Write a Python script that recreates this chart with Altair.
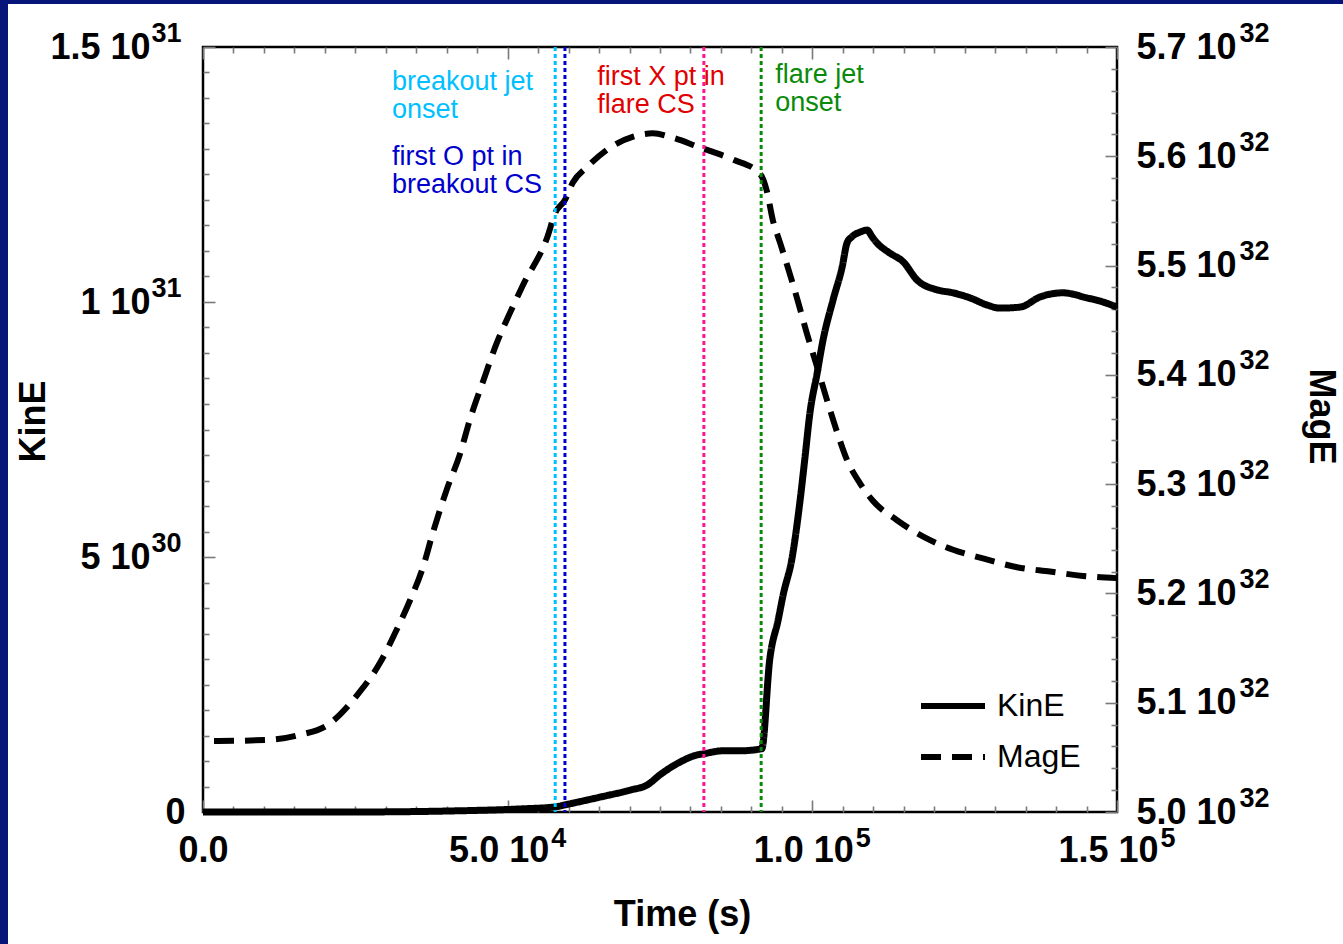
import altair as alt
import pandas as pd

# ---------------------------------------------------------------- data
# Kinetic energy (erg, in units of 1e30) versus time (s, in units of 1e3)
KIN_TIME_KS = [0, 24.1, 40.5, 52.0, 57.8, 59.4, 65.1, 70.1, 72.9, 75.0, 78.3,
               81.1, 82.1, 85.3, 88.1, 91.7, 93.0, 94.4, 95.2, 96.7, 98.0,
               98.8, 99.6, 100.8, 101.7, 103.4, 104.9, 105.7, 106.5, 107.8,
               109.0, 109.8, 110.6, 112.7, 114.9, 117.2, 120.4, 123.1, 125.9,
               128.7, 130.8, 134.1, 137.4, 141.1, 145.1, 147.7, 150.0]
KIN_E30 = [0, 0.0, 0.02, 0.06, 0.10, 0.14, 0.29, 0.43, 0.53, 0.73, 0.98,
           1.12, 1.14, 1.20, 1.20, 1.24, 2.98, 3.77, 4.25, 5.00, 6.12,
           6.96, 7.82, 8.61, 9.22, 10.04, 10.69, 11.16, 11.28, 11.37,
           11.41, 11.28, 11.16, 10.96, 10.79, 10.43, 10.24, 10.18, 10.08,
           9.94, 9.88, 9.90, 10.10, 10.18, 10.08, 10.00, 9.90]

# Magnetic energy (erg, in units of 1e32) versus time (s, in units of 1e3)
MAG_TIME_KS = [0, 2.5, 10.5, 15.4, 20.8, 25.3, 29.0, 31.8, 34.0, 36.1,
               37.7, 40.0, 42.2, 43.8, 45.9, 48.2, 50.4, 52.5, 56.5, 57.8,
               59.4, 60.7, 63.0, 66.3, 70.6, 73.8, 77.1, 81.6, 83.7, 87.0,
               91.4, 92.5, 93.5, 94.7, 97.6, 99.1, 100.8, 102.4, 104.1, 105.7,
               107.8, 109.9, 113.9, 118.2, 123.1, 128.0, 133.6, 139.0, 144.4, 150.0]
MAG_E32 = [5.065, 5.065, 5.066, 5.070, 5.081, 5.107, 5.136, 5.167, 5.194, 5.224,
           5.255, 5.295, 5.328, 5.359, 5.393, 5.429, 5.457, 5.482, 5.526, 5.548,
           5.560, 5.576, 5.590, 5.606, 5.618, 5.621, 5.617, 5.608, 5.604, 5.597,
           5.584, 5.569, 5.542, 5.521, 5.468, 5.438, 5.407, 5.377, 5.347, 5.322,
           5.301, 5.285, 5.267, 5.252, 5.240, 5.232, 5.224, 5.220, 5.216, 5.214]

# Event markers (time in 1e3 s) and their annotations
EVENT_TIMES_KS = [57.8, 59.4, 82.2, 91.6]
EVENT_LABELS = ["breakout jet\nonset", "first O pt in\nbreakout CS",
                "first X pt in\nflare CS", "flare jet\nonset"]
LABEL_TIMES_KS = [31.0, 31.0, 64.7, 93.9]
LABEL_LEVELS_E30 = [14.56, 13.09, 14.66, 14.70]

# Tick labels: mantissa part and power-of-ten exponent
X_MAJOR = [0, 50000, 100000, 150000]
X_TEXT = ["0.0", "5.0 10", "1.0 10", "1.5 10"]
X_EXP = ["", "4", "5", "5"]
KIN_MAJOR = [0, 5e30, 1e31, 1.5e31]
KIN_TEXT = ["0", "5 10", "1 10", "1.5 10"]
KIN_EXP = ["", "30", "31", "31"]
MAG_MAJOR = [5.0e32, 5.1e32, 5.2e32, 5.3e32, 5.4e32, 5.5e32, 5.6e32, 5.7e32]
MAG_TEXT = ["5.0 10", "5.1 10", "5.2 10", "5.3 10", "5.4 10", "5.5 10", "5.6 10", "5.7 10"]
MAG_EXP = ["32"] * 8

X_MINOR = [5000 * k for k in range(1, 30) if k % 10]
KIN_MINOR = [5e29 * k for k in range(1, 30) if k % 10]
MAG_MINOR = [(500 + 2 * k) * 1e30 for k in range(1, 35) if k % 5]

# ---------------------------------------------------------------- styles
FONT = "Liberation Sans"
NAVY = "#06157a"
TICK_GREY = "#7a7a7a"
EVENT_LINE_COLORS = ["#00bfff", "#0000cd", "#ff1493", "#0a8a0a"]
EVENT_TEXT_COLORS = ["#00bfff", "#0000cd", "#e00000", "#0a8a0a"]

kin_df = pd.DataFrame({"t": [v * 1e3 for v in KIN_TIME_KS],
                       "kin": [v * 1e30 for v in KIN_E30],
                       "series": "KinE"})
mag_df = pd.DataFrame({"t": [v * 1e3 for v in MAG_TIME_KS],
                       "mag": [v * 1e32 for v in MAG_E32],
                       "series": "MagE"})

xs = alt.Scale(domain=[0, 150000], nice=False, zero=False)
ks = alt.Scale(domain=[0, 1.5e31], nice=False, zero=False)
ms = alt.Scale(domain=[5.0e32, 5.7e32], nice=False, zero=False)


def label_expr(values, texts):
    expr = "''"
    for v, s in reversed(list(zip(values, texts))):
        expr = f"datum.value == {v!r} ? '{s}' : {expr}"
    return expr


LABEL_BASE = dict(labelFont=FONT, labelFontSize=36, labelFontWeight="bold",
                  labelColor="black", domain=False, ticks=False, tickSize=0,
                  grid=False, labelOverlap=False, labelFlush=False)
LABEL_EXP = dict(LABEL_BASE, labelFontSize=27)
TITLE = dict(titleFont=FONT, titleFontSize=36, titleFontWeight="bold",
             titleColor="black", titleAlign="center", titleBaseline="middle")


def tick_axis(orient, values, size):
    return alt.Axis(orient=orient, values=values, labels=False, domain=False,
                    grid=False, ticks=True, tickSize=size, offset=-size,
                    tickColor=TICK_GREY, tickWidth=1.6, title=None)


# mantissa / exponent label axes
ax_x_base = alt.Axis(orient="bottom", values=X_MAJOR,
                     labelExpr=label_expr(X_MAJOR, X_TEXT),
                     labelAlign="center", labelBaseline="top", labelPadding=21,
                     labelOffset={"condition": {"test": "datum.value == 0", "value": 0},
                                  "value": -9},
                     title="Time (s)", titleX=479, titleY=102, **TITLE, **LABEL_BASE)
ax_x_exp = alt.Axis(orient="bottom", values=X_MAJOR[1:],
                    labelExpr=label_expr(X_MAJOR, X_EXP),
                    labelAlign="left", labelBaseline="top", labelPadding=13,
                    labelOffset=43, title=None, **LABEL_EXP)
ax_kin_base = alt.Axis(orient="left", values=KIN_MAJOR,
                       labelExpr=label_expr(KIN_MAJOR, KIN_TEXT),
                       labelAlign="right", labelBaseline="middle",
                       labelPadding={"condition": {"test": "datum.value == 0", "value": 18},
                                     "value": 53},
                       title="KinE", titleAngle=270, titleX=-170, titleY=374,
                       **TITLE, **LABEL_BASE)
ax_kin_exp = alt.Axis(orient="left", values=KIN_MAJOR[1:],
                      labelExpr=label_expr(KIN_MAJOR, KIN_EXP),
                      labelAlign="left", labelBaseline="middle", labelPadding=52,
                      labelOffset=-14, title=None, **LABEL_EXP)
ax_mag_base = alt.Axis(orient="right", values=MAG_MAJOR,
                       labelExpr=label_expr(MAG_MAJOR, MAG_TEXT),
                       labelAlign="left", labelBaseline="middle", labelPadding=19,
                       title="MagE", titleAngle=90, titleX=203, titleY=369,
                       **TITLE, **LABEL_BASE)
ax_mag_exp = alt.Axis(orient="right", values=MAG_MAJOR,
                      labelExpr=label_expr(MAG_MAJOR, MAG_EXP),
                      labelAlign="left", labelBaseline="middle", labelPadding=122,
                      labelOffset=-14, title=None, **LABEL_EXP)

dash = alt.StrokeDash(
    "series:N",
    scale=alt.Scale(domain=["KinE", "MagE"], range=[[1, 0], [20, 11]]),
    legend=alt.Legend(orient="none", legendX=715, legendY=624, title=None,
                      symbolType="stroke", symbolSize=4096, symbolStrokeWidth=6,
                      symbolStrokeColor="black", labelFont=FONT, labelFontSize=32,
                      labelColor="black", labelOffset=9, rowPadding=-2, padding=0),
)

# energy curves
kin_line = alt.Chart(kin_df).mark_line(
    color="black", strokeWidth=7, interpolate="monotone", strokeCap="butt"
).encode(
    x=alt.X("t:Q", scale=xs, axis=ax_x_base),
    y=alt.Y("kin:Q", scale=ks, axis=ax_kin_base),
    strokeDash=dash,
)
mag_line = alt.Chart(mag_df).mark_line(
    color="black", strokeWidth=6, interpolate="monotone", strokeCap="butt",
    strokeDashOffset=20
).encode(
    x=alt.X("t:Q", scale=xs, axis=ax_x_exp),
    y=alt.Y("mag:Q", scale=ms, axis=ax_mag_base),
    strokeDash=dash,
)


# transparent layers that only carry the remaining axes (exponents, tick marks)
def carrier(df, field, yscale, xaxis, yaxis):
    return alt.Chart(df).mark_point(opacity=0).encode(
        x=alt.X("t:Q", scale=xs, axis=xaxis),
        y=alt.Y(f"{field}:Q", scale=yscale, axis=yaxis),
    )


carriers = [
    carrier(kin_df, "kin", ks, tick_axis("bottom", X_MAJOR, 12), ax_kin_exp),
    carrier(mag_df, "mag", ms, tick_axis("bottom", X_MINOR, 6), ax_mag_exp),
    carrier(kin_df, "kin", ks, tick_axis("top", X_MAJOR, 12), tick_axis("left", KIN_MAJOR, 12)),
    carrier(kin_df, "kin", ks, tick_axis("top", X_MINOR, 6), tick_axis("left", KIN_MINOR, 6)),
    carrier(mag_df, "mag", ms, None, tick_axis("right", MAG_MAJOR, 12)),
    carrier(mag_df, "mag", ms, None, tick_axis("right", MAG_MINOR, 6)),
]

# dotted event markers with their annotations
events = []
for i in range(len(EVENT_TIMES_KS)):
    ev = pd.DataFrame({"t": [EVENT_TIMES_KS[i] * 1e3]})
    events.append(
        alt.Chart(ev).mark_rule(strokeWidth=3, strokeDash=[4, 3],
                                color=EVENT_LINE_COLORS[i])
        .encode(x=alt.X("t:Q", scale=xs, axis=None))
    )
    lab = pd.DataFrame({"t": [LABEL_TIMES_KS[i] * 1e3],
                        "lvl": [LABEL_LEVELS_E30[i] * 1e30],
                        "label": [EVENT_LABELS[i]]})
    events.append(
        alt.Chart(lab).mark_text(align="left", baseline="top", font=FONT,
                                 fontSize=27, lineBreak="\n", lineHeight=27.5,
                                 color=EVENT_TEXT_COLORS[i])
        .encode(x=alt.X("t:Q", scale=xs, axis=None),
                y=alt.Y("lvl:Q", scale=ks, axis=None),
                text="label:N")
    )

# navy frame strips along the top and left page edges
one = alt.Data(values=[{}])
frame = [
    alt.Chart(one).mark_rect(color=NAVY).encode(
        x=alt.value(-203), x2=alt.value(1140), y=alt.value(-47), y2=alt.value(-43)),
    alt.Chart(one).mark_rect(color=NAVY).encode(
        x=alt.value(-203), x2=alt.value(-195), y=alt.value(-47), y2=alt.value(897)),
]

chart = (
    alt.layer(*frame, *carriers, mag_line, kin_line, *events)
    .resolve_scale(y="independent")
    .resolve_axis(x="independent", y="independent")
    .properties(
        width=914, height=765, background="white",
        padding={"left": 203, "top": 47, "right": 226, "bottom": 132},
        autosize=alt.AutoSizeParams(type="none"),
    )
    .configure_view(stroke="black", strokeWidth=2.5)
    .configure_axis(grid=False)
)

chart.save("out.html", embed_options={"renderer": "svg", "actions": False})
